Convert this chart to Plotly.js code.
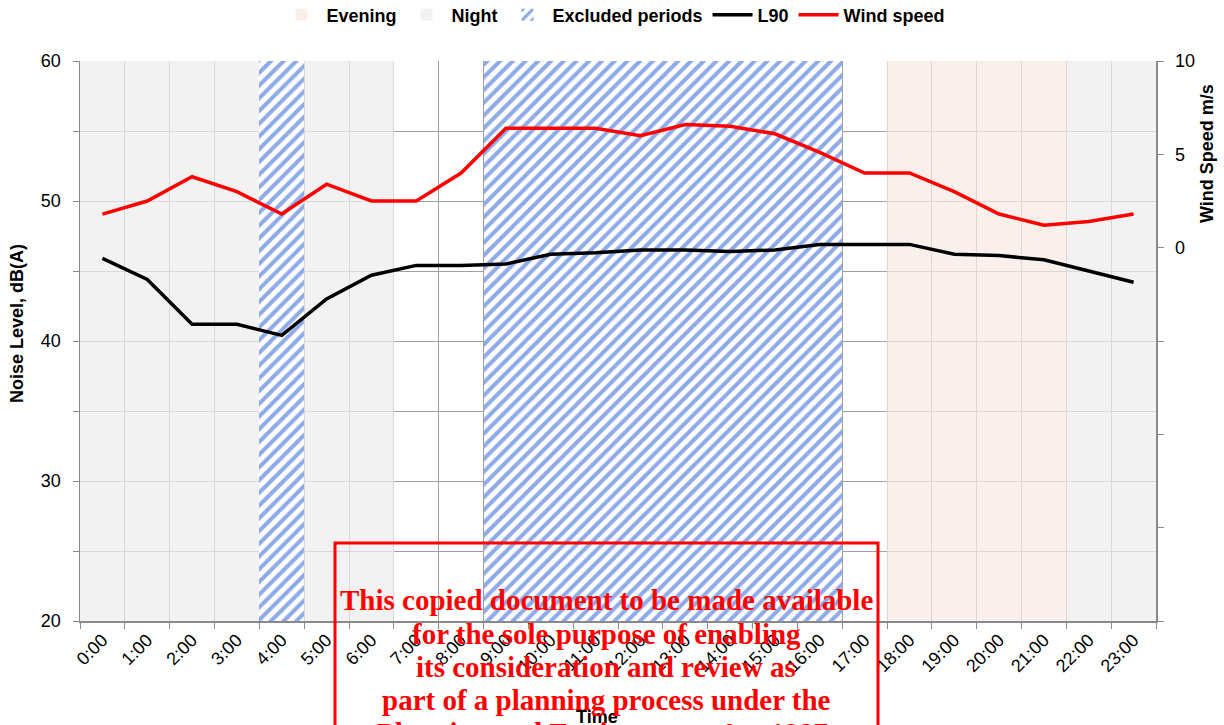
<!DOCTYPE html>
<html>
<head>
<meta charset="utf-8">
<script src="https://cdn.plot.ly/plotly-3.0.1.min.js"></script>
<style>html,body{margin:0;padding:0;background:#fff;overflow:hidden}#chart{width:1224px;height:725px}</style>
</head>
<body>
<div id="chart"></div>
<script>
// ---- data ----
const hours = ['0:00','1:00','2:00','3:00','4:00','5:00','6:00','7:00','8:00','9:00','10:00','11:00',
               '12:00','13:00','14:00','15:00','16:00','17:00','18:00','19:00','20:00','21:00','22:00','23:00'];
const l90 = [45.9, 44.4, 41.2, 41.2, 40.4, 43.0, 44.7, 45.4, 45.4, 45.5, 46.2, 46.3,
             46.5, 46.5, 46.4, 46.5, 46.9, 46.9, 46.9, 46.2, 46.1, 45.8, 45.0, 44.2];
const windSpeed = [1.8, 2.5, 3.8, 3.0, 1.8, 3.4, 2.5, 2.5, 4.0, 6.4, 6.4, 6.4,
                   6.0, 6.6, 6.5, 6.1, 5.1, 4.0, 4.0, 3.0, 1.8, 1.2, 1.4, 1.8];
// period bands (full height of the noise axis = 60)
const evening  = [null,null,null,null,null,null,null,null,null,null,null,null,
                  null,null,null,null,null,null,60,60,60,60,null,null];
const night    = [60,60,60,60,null,60,60,null,null,null,null,null,
                  null,null,null,null,null,null,null,null,null,null,60,60];
const excluded = [null,null,null,null,60,null,null,null,null,60,60,60,
                  60,60,60,60,60,null,null,null,null,null,null,null];
const leftTicks = [20,25,30,35,40,45,50,55,60];
const leftTickText = ['20','','30','','40','','50','','60'];
const rightTicks = [-20,-15,-10,-5,0,5,10];
const rightTickText = ['','','','','0','5','10'];
const watermark = ['This copied document to be made available',
                   'for the sole purpose of enabling',
                   'its consideration and review as',
                   'part of a planning process under the',
                   'Planning and Environment Act 1987.'];

// ---- layout geometry ----
const W = 1224, H = 725;
const L = 80, R = 1156, T = 61, B = 621;
const px = x => (x - L) / (R - L);
const py = y => (B - y) / (B - T);
const SANS = 'Liberation Sans, Arial, sans-serif';
const SERIF = 'Liberation Serif, Times New Roman, serif';

const traces = [
  {type:'bar', name:'Evening', x:hours, y:evening, width:1,
   marker:{color:'rgba(248,234,227,0.72)', line:{width:0}}, hoverinfo:'skip'},
  {type:'bar', name:'Night', x:hours, y:night, width:1,
   marker:{color:'rgba(237,237,237,0.72)', line:{width:0}}, hoverinfo:'skip'},
  {type:'bar', name:'Excluded periods', x:hours, y:excluded, width:1,
   marker:{color:'#ffffff', line:{width:0},
           pattern:{shape:'/', fgcolor:'#8eaae8', bgcolor:'#ffffff', size:9, solidity:0.45, fillmode:'replace'}},
   hoverinfo:'skip'},
  {type:'scatter', mode:'lines', name:'L90', x:hours, y:l90,
   line:{color:'#000000', width:3.5}},
  {type:'scatter', mode:'lines', name:'Wind speed', x:hours, y:windSpeed, yaxis:'y2',
   line:{color:'#ff0000', width:3.5}}
];

const annotations = [
  {xref:'paper', yref:'paper', x:px(17), y:py(324), text:'Noise Level, dB(A)', textangle:-90,
   showarrow:false, font:{family:SANS, size:18, color:'#000', weight:'bold'}, xanchor:'center', yanchor:'middle'},
  {xref:'paper', yref:'paper', x:px(1207), y:py(154), text:'Wind Speed m/s', textangle:-90,
   showarrow:false, font:{family:SANS, size:18, color:'#000', weight:'bold'}, xanchor:'center', yanchor:'middle'},
  {xref:'paper', yref:'paper', x:px(597), y:py(717), text:'Time',
   showarrow:false, font:{family:SANS, size:18, color:'#000', weight:'bold'}, xanchor:'center', yanchor:'middle'}
];
const wmY = [600, 634, 667, 700, 733];
watermark.forEach((t, i) => {
  annotations.push({xref:'paper', yref:'paper', x:px(606), y:py(wmY[i]), text:t, showarrow:false,
    font:{family:SERIF, size:29, color:'#ff0000', weight:'bold'}, xanchor:'center', yanchor:'middle'});
});

const layout = {
  width:W, height:H,
  margin:{l:L, r:W-R, t:T, b:H-B, pad:0, autoexpand:false},
  paper_bgcolor:'#ffffff', plot_bgcolor:'#ffffff',
  font:{family:SANS, size:18, color:'#000'},
  barmode:'overlay', bargap:0,
  showlegend:true,
  legend:{orientation:'h', x:px(613), xanchor:'center', y:py(15), yanchor:'middle',
          font:{family:SANS, size:18, color:'#000', weight:'bold'}, traceorder:'normal',
          itemwidth:40, bgcolor:'rgba(0,0,0,0)'},
  xaxis:{type:'category', categoryorder:'array', categoryarray:hours, range:[-0.5, 23.5],
         tickson:'boundaries', ticks:'outside', ticklen:6, tickcolor:'#898989',
         showgrid:true, gridcolor:'#a0a0a0', gridwidth:1,
         showline:true, linecolor:'#898989', linewidth:1.5,
         tickangle:-45, tickfont:{family:SANS, size:18, color:'#000'}, zeroline:false, fixedrange:true},
  yaxis:{range:[20,60], tickvals:leftTicks, ticktext:leftTickText, ticks:'outside', ticklen:6,
         tickcolor:'#898989', showgrid:true, gridcolor:'#a0a0a0', gridwidth:1,
         showline:true, linecolor:'#898989', linewidth:1.5, zeroline:false,
         tickfont:{family:SANS, size:18, color:'#000'}, ticklabelstandoff:8, fixedrange:true},
  yaxis2:{range:[-20,10], overlaying:'y', side:'right', tickvals:rightTicks, ticktext:rightTickText,
          ticks:'outside', ticklen:6, tickcolor:'#898989', showgrid:false,
          showline:true, linecolor:'#898989', linewidth:1.5, zeroline:false,
          tickfont:{family:SANS, size:18, color:'#000'}, ticklabelstandoff:8, fixedrange:true},
  shapes:[
    {type:'rect', xref:'paper', yref:'paper', x0:px(335), x1:px(878), y0:py(543), y1:py(800),
     line:{color:'#ff0000', width:3}, fillcolor:'rgba(0,0,0,0)', layer:'above'}
  ],
  annotations:annotations
};

Plotly.newPlot('chart', traces, layout, {displayModeBar:false, staticPlot:true});
</script>
</body>
</html>
